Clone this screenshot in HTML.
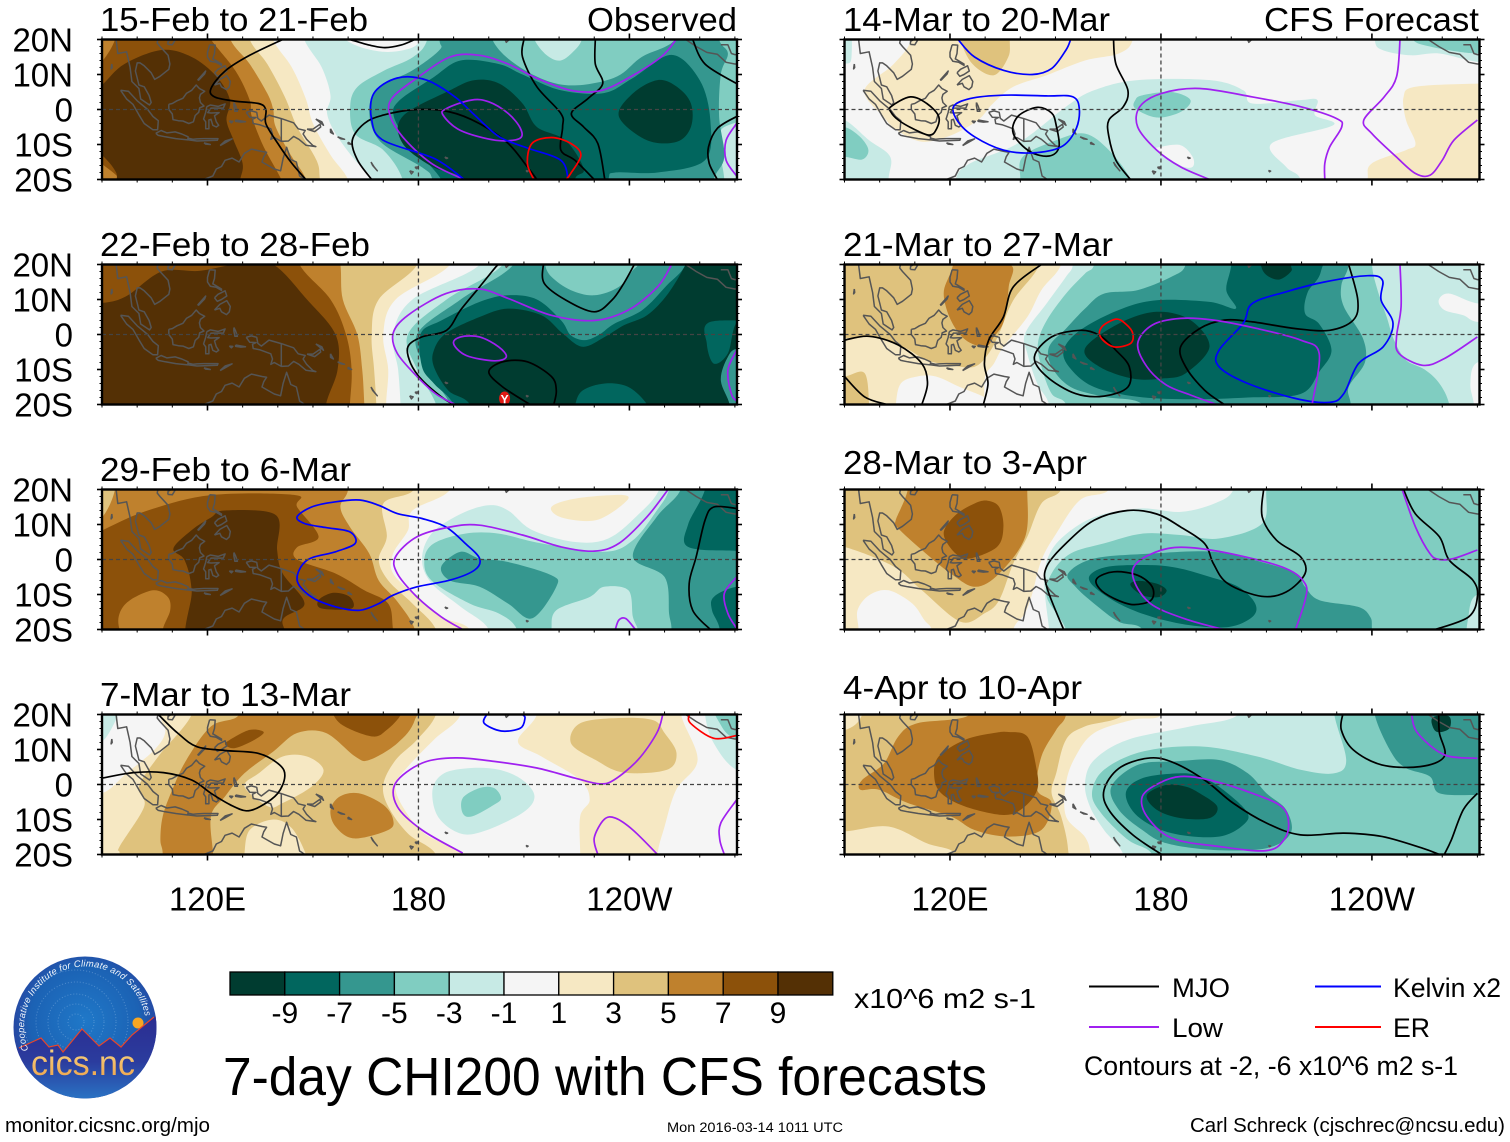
<!DOCTYPE html>
<html lang="en">
<head>
<meta charset="utf-8">
<title>7-day CHI200 with CFS forecasts</title>
<style>
html,body{margin:0;padding:0;background:#fff;}
svg{display:block;font-family:"Liberation Sans",sans-serif;fill:#000;}
</style>
</head>
<body>
<svg id="chart" xmlns="http://www.w3.org/2000/svg" width="1510" height="1142" viewBox="0 0 1510 1142">
<defs>
<radialGradient id="logo-sky" cx="50%" cy="45%" r="55%"><stop offset="0" stop-color="#1f78c8"/><stop offset="0.7" stop-color="#1c62b4"/><stop offset="1" stop-color="#2a3d9c"/></radialGradient>
<linearGradient id="logo-land" x1="0" y1="0" x2="0" y2="1"><stop offset="0" stop-color="#2b2c90"/><stop offset="0.55" stop-color="#2b3c9e"/><stop offset="1" stop-color="#2a74c4"/></linearGradient>
<linearGradient id="logo-word" x1="0" y1="0" x2="0" y2="1"><stop offset="0" stop-color="#f7d98a"/><stop offset="1" stop-color="#ee9f45"/></linearGradient>
<clipPath id="logo-clip"><ellipse cx="85" cy="1027.5" rx="71.5" ry="71"/></clipPath>
<path id="logo-arc" d="M 28.4 1050 A 61 61 0 1 1 145 1016"/>
</defs>
<rect x="0" y="0" width="1510" height="1142" fill="#fff"/>

<g id="panels"></g>

<g font-size="33">
<text x="100" y="31" textLength="268" lengthAdjust="spacingAndGlyphs">15-Feb to 21-Feb</text>
<text x="587" y="31" textLength="150" lengthAdjust="spacingAndGlyphs">Observed</text>
<text x="100" y="256" textLength="270" lengthAdjust="spacingAndGlyphs">22-Feb to 28-Feb</text>
<text x="100" y="481" textLength="251" lengthAdjust="spacingAndGlyphs">29-Feb to 6-Mar</text>
<text x="100" y="706" textLength="251" lengthAdjust="spacingAndGlyphs">7-Mar to 13-Mar</text>
<text x="843" y="31" textLength="267" lengthAdjust="spacingAndGlyphs">14-Mar to 20-Mar</text>
<text x="1264" y="31" textLength="215" lengthAdjust="spacingAndGlyphs">CFS Forecast</text>
<text x="843" y="256" textLength="270" lengthAdjust="spacingAndGlyphs">21-Mar to 27-Mar</text>
<text x="843" y="474" textLength="244" lengthAdjust="spacingAndGlyphs">28-Mar to 3-Apr</text>
<text x="843" y="699" textLength="239" lengthAdjust="spacingAndGlyphs">4-Apr to 10-Apr</text>
</g>

<g>
<ellipse cx="85" cy="1027.5" rx="71.5" ry="71" fill="url(#logo-sky)"/>
<g clip-path="url(#logo-clip)" fill="none" stroke="#9cc4ea" stroke-opacity="0.4" stroke-dasharray="1 2">
<circle cx="76" cy="1022" r="8"/>
<circle cx="76" cy="1022" r="18"/>
<circle cx="76" cy="1022" r="28"/>
<circle cx="76" cy="1022" r="40"/>
<circle cx="76" cy="1022" r="52"/>
</g>
<circle cx="138" cy="1023" r="5.5" fill="#f6a623"/>
<g clip-path="url(#logo-clip)">
<path d="M14 1050 L19 1048 L41 1038 L49 1047 L58 1045 L63 1052 L82 1029 L99 1046 L110 1038 L121 1047 L132 1035 L154 1017 L160 1015 L160 1100 L10 1100 Z" fill="url(#logo-land)"/>
<path d="M19 1048 L41 1038 L49 1047 L58 1045 L63 1052 L82 1029 L99 1046 L110 1038 L121 1047 L132 1035 L154 1017" fill="none" stroke="#e8452a" stroke-width="1.2"/>
</g>
<text font-size="9.3" font-style="italic" fill="#f2f6fb"><textPath href="#logo-arc" textLength="203" lengthAdjust="spacing">Cooperative Institute for Climate and Satellites</textPath></text>
<text x="31" y="1075" font-size="35" textLength="104" lengthAdjust="spacingAndGlyphs" fill="url(#logo-word)">cics.nc</text>
</g>

<g id="colorbar"></g>
<text x="854" y="1008" font-size="28" textLength="182" lengthAdjust="spacingAndGlyphs">x10^6 m2 s-1</text>

<text x="223" y="1095" font-size="54" textLength="764" lengthAdjust="spacingAndGlyphs">7-day CHI200 with CFS forecasts</text>

<g>
<line x1="1089" y1="986.5" x2="1159" y2="986.5" stroke="#000" stroke-width="2"/>
<text x="1172" y="997" font-size="27" textLength="58" lengthAdjust="spacingAndGlyphs">MJO</text>
<line x1="1315" y1="986.5" x2="1381" y2="986.5" stroke="#0000ff" stroke-width="2"/>
<text x="1393" y="997" font-size="27" textLength="108" lengthAdjust="spacingAndGlyphs">Kelvin x2</text>
<line x1="1089" y1="1027" x2="1159" y2="1027" stroke="#a020f0" stroke-width="2"/>
<text x="1172" y="1037" font-size="27" textLength="51" lengthAdjust="spacingAndGlyphs">Low</text>
<line x1="1315" y1="1027" x2="1381" y2="1027" stroke="#ff0000" stroke-width="2"/>
<text x="1393" y="1037" font-size="27" textLength="37" lengthAdjust="spacingAndGlyphs">ER</text>
<text x="1084" y="1075" font-size="27" textLength="374" lengthAdjust="spacingAndGlyphs">Contours at -2, -6 x10^6 m2 s-1</text>
</g>

<text x="5" y="1132" font-size="20.5" textLength="205" lengthAdjust="spacingAndGlyphs">monitor.cicsnc.org/mjo</text>
<text x="667" y="1132" font-size="13.5" textLength="176" lengthAdjust="spacingAndGlyphs">Mon 2016-03-14 1011 UTC</text>
<text x="1190" y="1132" font-size="20.5" textLength="315" lengthAdjust="spacingAndGlyphs">Carl Schreck (cjschrec@ncsu.edu)</text>
</svg>

<script>
/* ---------- scale and axis data ---------- */
const bandValues = [-10,-8,-6,-4,-2,0,2,4,6,8,10];
const bandColors = ['#003c30','#01665e','#35978f','#80cdc1','#c7eae5','#f5f5f5','#f6e8c3','#dfc27d','#bf812d','#8c510a','#543005'];
const colorbarTicks = ['-9','-7','-5','-3','-1','1','3','5','7','9'];
const lonMajor = [120,180,240];
const lonLabels = ['120E','180','120W'];
const latMajor = [20,10,0,-10,-20];
const latLabels = ['20N','10N','0','10S','20S'];
const lineColors = {mjo:'#000000',kelvin:'#0000ff',low:'#a020f0',er:'#ff0000'};

/* ---------- coastlines (lon,lat) ---------- */
const coastLines = [
[94,20,94.5,16,97,16.5,98,12,98.5,8,100.5,6,101,3,103.5,1.3,104,2,103.4,4,102,6.5,100.5,7,100,9,99.5,11,100,13.3,100.8,13.3,102,12.5,104,10.5,105,8.6,106.5,9.5,109,11.5,109.3,13,108.8,15.5,106.5,18,105.7,19,106,20.5],
[108.7,18.6,110,18.5,110.8,19.8,110,20.2,108.8,19.5,108.7,18.6],
[95.3,5.5,97.5,5.2,100,2.5,103,0,104.5,-2,106,-3.2,105.8,-5.8,104.5,-5.8,102,-4,100.5,-1.5,98.8,1.5,97,3,95.3,5.5],
[105.3,-6.8,106.8,-6,108.5,-6.7,110.8,-6.4,112.7,-7,114.5,-7.8,114.4,-8.7,111,-8.3,108,-7.8,106,-7.4,105.3,-6.8],
[114.6,-8.2,116,-8.5,117,-8.4,119,-8.3,120.5,-8.3,123,-8.3,122.8,-8.8,120,-8.9,117,-9,114.6,-8.7,114.6,-8.2],
[123.6,-10.3,125,-9,127,-8.4,125,-9.5,123.6,-10.3],
[119,-9.5,120.8,-10,119.5,-9.9,119,-9.5],
[109,1.5,110,1.7,111.3,2.5,113,3.2,114,4.6,115.5,5.5,116.8,7,117.7,6,119.2,5.2,118,4.3,117.7,3.3,118,2,119,1,117.8,0.5,117.5,-0.8,116.5,-1.7,116,-3.5,114.7,-4,113,-3.3,111.7,-3.2,110.2,-2.9,110,-1.3,109,0,109,1.5],
[119.8,0.8,120.8,1.3,123,0.9,125,1.6,124.5,0.4,121,0.4,120.1,-0.9,121,-1,123.3,-0.9,122,-1.8,122.5,-3.5,123.2,-4.5,122.5,-5,121.5,-4.5,121,-2.8,120.4,-3,120.4,-5.5,119.5,-5.5,119.5,-3.5,118.9,-2.7,119.5,-0.8,119.8,0.8],
[120.6,18.5,122.2,18.4,122,16,121.5,14.5,124,13,124,12.6,122.5,13.5,120.8,13.8,120,15,120,16.3,120.6,18.5],
[122,7,123.5,8.6,125.5,9.7,126.5,8,126.2,6.5,125.4,5.7,124,6.5,123.5,7.5,122,7],
[117.2,8.4,119.5,11,119.2,10.2,117.5,8.4,117.2,8.4],
[122,10.5,123,11.5,125,12.5,125.5,11,124,10,122.8,9.5,122,10.5],
[127.5,2,128,1,128.5,-0.5,127.8,-0.5,127.5,1,127.5,2],
[128,-3,130.8,-3.5,129.5,-3.6,128,-3.4,128,-3],
[126.2,-3.3,127.2,-3.4,126.8,-3.8,126.2,-3.3],
[131,-0.8,132.5,-0.4,134,-0.8,134.3,-2.5,135.3,-3.3,137.5,-1.6,141,-2.6,144.5,-3.8,145.8,-5.5,147.8,-6,147.2,-7,148.2,-8.5,150,-10.3,150.8,-10.6,148,-10.2,146,-8.5,144.5,-7.7,143,-9,141,-9.1,139,-8,138,-8.5,138.5,-7,138,-5.5,135,-4.4,133,-4,132.8,-2.8,133.8,-2.3,132,-2.2,131,-0.8],
[141,-2.6,141,-9.1],
[148.3,-5.6,150,-5.6,152,-4.2,152.2,-5,150.5,-6.3,148.3,-5.6],
[150.8,-2.7,153,-4.5,152.5,-3.5,150.8,-2.7],
[155,-5.5,155.8,-7,155,-6.5,155,-5.5],
[157,-7.8,159,-8.5,158,-8.4,157,-7.8],
[160,-9.3,161,-10,160,-9.8,160,-9.3],
[113.5,-22,114,-22,117,-20.6,119,-20,121.5,-19,122.5,-17,124,-16.3,125,-14.5,127,-13.9,129,-15,130.5,-12.5,132.5,-11.3,135.5,-12,136.8,-12.2,136,-13.5,135.5,-15,139,-17,140.8,-17.5,141.5,-14,142.5,-10.8,143.7,-14.3,145.3,-15,146.2,-19,147,-19.5,149,-21],
[166.5,-15,167,-16,168.3,-17.5,167.4,-16.4,166.5,-15],
[177.5,-17.5,178.5,-17.8,178,-18.4,177.5,-17.5],
[179,-16.5,180,-16.4,179.5,-16.9,179,-16.5],
[164,-20,165,-20.5,164.5,-20.4,164,-20],
[187.5,-13.6,188.3,-13.9,187.9,-14,187.5,-13.6],
[210.6,-17.4,211.2,-17.6,210.9,-17.8,210.6,-17.4],
[204.5,20.3,205,19.2,205.6,19.8,205,20.4,204.5,20.3],
[92.8,13,92.6,11.6,92.9,12,92.8,13],
[254.5,20,256,20,259,18,262,16.3,265,15.8,267.5,13.5,270,13,271,13],
[266,18.5,268,18.5,269,16,270,15.7,271,15.7]
];

/* ---------- panel 1: 15-Feb to 21-Feb ---------- */
const p1Base = -2;
const p1Fills = [
[0,[80,30,145,30,147.5,20,152.5,12,155,4,154,-1,156.5,-7,162,-14.5,167,-20,170,-30,80,-30]],
[0,[158,24,158,21,163,18,170,16.5,176,17,180,19,181,24]],
[2,[80,30,136,30,138.6,20,144,12,148,3,150,-4,155,-13,160,-20,163,-30,80,-30]],
[4,[80,30,130,30,132,20,137,13,142,3.6,145.5,-5,151,-14.5,152,-20,153,-30,80,-30]],
[6,[80,30,124,30,126.5,20,132,13,137,4.6,138.7,0,139.4,-5,144,-13.5,148,-20,150,-30,80,-30]],
[8,[94,26,118,26,121,20,128,11,132,2.7,132.6,-2,136,-10.7,141,-20,143,-26,96,-26,95,-20,90,-15.5,84,-10,84,8,90,13.7,93.7,20]],
[10,[90,7,96.4,13,107,17,115.5,15,122.6,9.4,126.4,2.7,125.4,-3,127.4,-8.7,130,-15.4,129.3,-20,128,-26,97,-26,94,-18,90,-13,84,-8,84,2]],
[-4,[182.5,20,183,30,280,30,280,-30,176,-30,175.5,-20,170,-11.6,162,-7,160.6,1,162.7,6.5,170,11,178.5,15]],
[-2,[213,24,213,20,216.5,15.5,220.5,14,224.5,17,226.5,20,227,24]],
[-2,[267,-5,266,-12.5,267,-20,267,-28,280,-28,280,-5]],
[-6,[201,30,201,20,209,12,221.5,7,235.5,9,243.5,15,253,20,255,30,264,30,265.5,20,268,16,266,10,265.5,-2,267,-13.5,264,-20,263,-30,186,-30,184,-20,181,-16.5,169,-9,166,0,169,6.5,178,11,186,17,186,20,186,30]],
[-8,[192,14,184,9,174.5,2.5,173,-2,177.5,-9.7,186.5,-20,190,-30,232,-30,234,-20,236,-18,248,-18,261.5,-14.5,263,-3,260,8.4,252,15.6,241,9,232.7,4.7,220.5,5.5,209.6,10,202.8,13]],
[-10,[196,8.4,189,5.5,175.5,-2,175.5,-9.7,184,-16.4,193,-20,193,-30,224,-30,224.5,-20,227,-17,221.8,-8.8,213.7,-5,209.6,1.7,203,7.4]],
[-10,[248,8.4,241,4.6,237,-2,245,-8.8,253.5,-9.2,257.5,-5,257.5,1.7,253.5,6.5]]
];
const p1Lines = [
['mjo',0,[141.4,20,132,15.5,125,11,121,6,122,3.6,127.7,2.4,134.5,1.7,136.6,0,136.6,-4,140,-9.7,144,-15.4,148,-20]],
['mjo',0,[160.5,20,166,18.4,170.5,17.7,175,18.4,179,20]],
['mjo',0,[166.7,-20,162.7,-14.5,161.2,-8.8,164.6,-4,170,-1.6,179.5,0,189,-0.7,197.3,-4,205.5,-9.7,211,-16.4,213.7,-20]],
['mjo',0,[210,20,209.6,15,213.7,6.5,220.5,-1.1,221,-5,220.5,-11.6,224.5,-14.5,230,-20]],
['mjo',0,[230.3,20,230.3,13,232.4,7.4,228.3,3.2,223.5,-1.1,227,-5,231,-9.7,233,-20]],
['mjo',0,[258,20,261.5,13,270.5,7.4]],
['mjo',0,[270.5,-2,265,-5.4,262.5,-10.7,262.7,-15.4,265,-20]],
['low',0,[253.3,20,249,15,239.7,9,231.5,5.3,223.3,5.5,213.7,8.9,205.5,13,197.3,15.5,189,15,179.6,9,172.8,3.6,171.7,-1,175.5,-7.8,183.7,-15.4,193,-20]],
['low',1,[195,2.7,188,0.3,187,-1.6,192,-6,202,-8.8,208.7,-8.3,209,-5.4,205.5,-1.1,200,2.2]],
['low',0,[270.5,-4,267.5,-8.8,267.5,-14.5,270.5,-19]],
['kelvin',0,[193,-20,184.5,-14,170,-8.8,166.7,-3,167.3,4.6,174,9,182.3,8.4,190.4,3.6,196,-1.6,203,-7.8,211,-11,220.5,-14.5,222.6,-20]],
['er',0,[212.8,-20,211,-15.4,212.3,-9.7,217.8,-8,223.3,-9.7,226.2,-13,223.3,-18.3,222,-20]]
];

/* ---------- panel 2: 22-Feb to 28-Feb ---------- */
const p2Base = -2;
const p2Fills = [
[0,[80,30,196,30,197.4,20,178.3,10,172.8,0,174.2,-10,174.9,-20,175,-30,80,-30]],
[2,[80,30,188,30,189,20,173.5,10,170,0,171.4,-10,170.8,-20,171,-30,80,-30]],
[4,[80,30,178,30,179.6,20,168.7,10,166.7,0,167.4,-10,168,-20,168,-30,80,-30]],
[6,[80,30,156,30,157.8,20,158.5,10,162.6,0,164,-10,164.6,-20,165,-30,80,-30]],
[8,[80,30,145,30,146.2,20,155,10,159.4,0,161,-10,160.5,-20,160,-30,80,-30]],
[10,[90,9,97,11,107,18,118,18.2,130,20.5,138.7,20,148.3,10,156.4,0,157,-10,153.7,-20,153,-30,80,-30,80,9]],
[-4,[204,30,204,20,188,10,177,0,179.6,-10,185,-20,186,-30,280,-30,280,30]],
[-6,[207,30,207,20,192,10,179.6,0,182.4,-10,189,-20,190,-30,280,-30,280,30]],
[-4,[216,24,216,20,217.8,16.5,223.3,12.7,230,11.2,237,13.6,241,18.4,242.4,20,242.4,24]],
[-8,[205.5,11.2,197.4,9.3,186.5,4,180.7,0.3,181,-9.2,184.4,-14,189.9,-20,191,-30,280,-30,280,30,258,30,256,20,250.6,14,243.7,7,235.6,3,231.5,0,227.4,-1.6,223.3,-0.2,220.6,4,213.7,10]],
[-10,[205.5,7.4,197.4,5,187.8,0.3,184.4,-4.5,184.4,-9.2,188.5,-16,194.6,-20,196,-30,280,-30,280,30,260,30,256.5,21,251,11.7,245,5.5,238.5,2.7,233,-0.7,226.7,-3.5,221,0.3,215,5.5]],
[-8,[263,3.6,262,-2.6,264,-8.3,268,-5.4,271,4,280,4,280,3.6]],
[-6,[271,-4,268,-6.4,266,-13,268.5,-20,268.5,-26,280,-26,280,-4]],
[-8,[224.6,-24,224.6,-20,226.7,-16,233,-14,239.7,-15,245,-20,245,-24]]
];
const p2Lines = [
['mjo',0,[203,20,202,19.3,197.4,13.6,192,7,188,1.2,181,-0.7,177,-3.5,177.8,-8.3,181,-13,186.5,-17.8,190,-20]],
['mjo',0,[215.5,20,215.8,14.6,222,9.8,230,6.5,235,9.8,238.4,14.6,241.4,20]],
['mjo',0,[211.7,-20,204,-15,200,-10.7,204,-7.8,211,-7.8,217.8,-12,219.2,-16,218.5,-20]],
['low',0,[252,20,248,13.6,239.7,7,230,4,217.8,5.5,205.5,10.3,197.4,13,187.8,11.7,177,5.5,172.8,0.3,174,-5.4,179.6,-12,185,-17,190.5,-20]],
['low',1,[192,-0.7,190,-2.6,193.6,-6,201.5,-7.5,205,-6.4,202.8,-3.5,197.4,-0.7]],
['low',0,[270.5,-4.5,268,-10.2,269,-17,270.5,-19]]
];
const p2Storm = [204.5,-18.3];

/* ---------- panel 3: 29-Feb to 6-Mar ---------- */
const p3Base = 0;
const p3Fills = [
[2,[80,30,188,30,189,20,178.3,14,177,8.3,172.8,1.7,172.8,-4,179.6,-10.6,186.5,-16.4,194.6,-20,196,-30,80,-30]],
[2,[217.8,15,224.6,17.4,238.4,18.4,238.4,16,230.4,11.2,220.7,12]],
[4,[80,30,178,30,178.7,20,170,16,171,6.5,168.7,0,171.4,-6,178.3,-12.6,185,-20,186,-30,80,-30]],
[6,[94,30,93.7,20,90,12,84,8,82,-30,180,-30,179,-20,174,-12,168.7,-6,166,1.7,160.5,9.3,157.8,15,160,20,160,30]],
[8,[90,8.3,103,14,121,18.4,145,18.4,145.5,15,151.6,6.5,145.5,3.5,145.5,0,156.4,-4,164.6,-8.8,171.4,-12.6,172.8,-20,174,-30,82,-30,82,4]],
[6,[95,-15.4,98,-11.6,104.6,-8.8,108.7,-10.7,109.4,-14.5,107.3,-20,107,-26,98,-26,95,-20]],
[10,[125,14,139.4,12.7,139.8,2.7,141.4,-4,147.6,-12.6,141.4,-17.3,142,-26,115.5,-26,115.5,-8.8,113.5,-0.2,110.3,3.1,115.5,8.4,121,12]],
[10,[151.6,-11.6,155.8,-9.5,160.5,-10.7,161,-14,152.5,-14]],
[-2,[201,-30,200,-20,192,-13.5,183.7,-6.8,181,0,183.7,7.4,192,13,200,15.5,205.5,14,212.4,8.4,224.6,5,234,6,242.4,12.7,248.5,20,250,30,280,30,280,-30]],
[-4,[209,-30,208,-20,202.8,-15.4,194.6,-12.6,183.7,-6,181.7,0,184.4,4.6,193.3,7.4,202.8,7.4,215,4.6,232.8,2.2,241,5.5,247.8,14,251.3,20,253,30,280,30,280,-30]],
[-2,[217.8,-24,217.8,-20,219.2,-14.5,228.7,-10.7,232.8,-7.8,239.7,-8.8,241,-16.4,242.4,-20,242.4,-24]],
[-6,[186.5,-2,192,2.2,197.4,0.3,205.5,-0.7,217.8,-4.5,219.2,-7.8,212.4,-16.8,205.5,-12.6,197.4,-7.8,189,-6]],
[-6,[255,30,254.6,20,247.8,12.2,241,0.8,250,-5,251.3,-15.5,252,-20,252,-30,280,-30,280,30]],
[-8,[262,30,261.5,20,256.7,10,256.7,3.6,270,2.5,280,2.5,280,30]],
[-8,[270.5,-7.8,264,-10.7,263.5,-14.5,265.7,-20,266,-30,280,-30,280,-7.8]]
];
const p3Lines = [
['kelvin',1,[145.5,12.2,149.6,15,156.4,16.5,163.3,17,168.7,15.5,174,13.1,181,11.7,187.8,9.3,193.3,4.6,197.4,0.3,196,-3,189,-5.9,179.6,-7.8,172.8,-10.2,168.7,-12.6,163.3,-14.5,156.4,-13.5,149.6,-10.7,145.5,-5.9,148.3,-0.2,156.4,2.2,162,4.6,160.5,7.9,153.7,9.1,147.6,10.3]],
['low',0,[251,20,245,12.2,237,4.6,230,2.4,220.6,3.6,209.6,7,197.4,9.8,189,9.3,179.6,6.5,173.5,0.8,174,-4,179.6,-10.7,186.5,-16.4,192.6,-20]],
['low',0,[270.5,-5,267,-9.7,268,-15.4,270.5,-19.7]],
['low',0,[236,-20,237,-17.3,239,-16.9,241.7,-20]],
['mjo',0,[270.5,14.6,264,15,261.5,11.2,259,0.8,257,-6.8,258,-14.5,263,-20]]
];

/* ---------- panel 4: 7-Mar to 13-Mar ---------- */
const p4Base = 0;
const p4Fills = [
[-2,[84,12.3,90,12.3,94,18.5,94.4,20,94.4,26,84,26]],
[2,[90,-2.5,97,3.2,105,10,108,15,106.5,20,107,30,191,30,192,20,184.4,12.8,177,5.1,173.5,0,175.5,-6.3,181.7,-14,192.6,-20,195,-30,80,-30,80,-2.5]],
[4,[115.5,30,115.5,20,106,8,100.5,-0.6,102,-6.3,95,-17.7,95,-20,94,-30,186,-30,185,-20,177,-14,171.4,-6.3,170,0,173.5,7,179.6,12.8,185,20,186,30]],
[6,[129,30,129,20,121,16.6,114,7,110,-1.5,107.3,-9,106.6,-15.8,107.3,-20,107,-30,122,-30,121.6,-20,121,-9,125,-3.4,130.5,3.2,138.7,9.4,145.5,14.7,153.7,14.7,162,8,166,7,174,11.8,179,18.5,180,30]],
[2,[141.4,8,148.3,8,153,4.2,149.6,-0.6,141.4,-5.3,137.3,-6.3,130.5,-0.6,134.6,3.2]],
[2,[130.5,-24,130.5,-20,132,-13,138.7,-10,144,-12.5,148,-20,148,-24]],
[6,[155,-7.2,157.7,-3.4,163,-2.5,170,-5.8,172.8,-10,171.4,-13,161.7,-15.4,156.4,-12]],
[8,[155.8,24,155.8,20,159,16.6,167,13.7,171,15.6,175,20,175,24]],
[8,[126.4,12.8,132,15.6,136,15,133.4,12.8,127.8,10.4,125,11.4]],
[2,[214,30,213.7,20,208.3,12.3,215,8,226,1.3,228.7,-4.4,226,-9.1,226,-20,226,-30,248,-30,248,-20,250,-12,253.3,-1.5,259.4,7,254.7,20,255,30]],
[4,[223.4,11.8,226,17.5,237,19,246.7,18.4,250,14.7,253.4,9,250.7,4.2,238.4,3.4,230.4,7]],
[-2,[261.5,30,261.5,20,264,11.8,270.5,4.2,280,4.2,280,30]],
[-4,[264.5,24,266,17,270.5,13,280,13,280,24]],
[-2,[195,4.7,187.3,3.2,184,-1.5,185.5,-9.1,191.6,-13.9,198.4,-13.4,209.6,-8.1,213,-3.4,209.6,1.3,203,4.2]],
[-4,[197.4,-1,192.6,-3.9,192.6,-8.2,195.3,-9.1,201.5,-5.8,203.5,-3.9,201.5,-1]]
];
const p4Lines = [
['mjo',0,[106,20,111.5,14.7,117,10.8,125,9.7,134.5,8.9,140.5,5.6,142,2.3,140,-2.5,135,-6.3,131,-7.5,126.5,-5.8,121,-2.5,115.5,1.3,107.5,3.4,99,3.4,90,1.8]],
['kelvin',0,[199.4,20,198.7,17.5,203.5,15.3,209,16.1,210.3,19,209.6,20]],
['er',0,[257,20,257.4,17.5,264,13.2,270.5,14]],
['low',0,[249.5,20,247.8,14.7,242.4,7,235.6,1.3,231.5,0.2,224.6,1.8,213.7,4.7,201.5,6.6,190.5,7.6,181,6.1,173.5,0.4,174,-6.3,181,-13,192.6,-19.6]],
['low',0,[231,-20,230,-15.3,232.8,-10,236,-9.6,241,-13,248,-20]],
['low',0,[270.5,-4.4,266,-11,265.7,-15.8,267,-20]]
];

/* ---------- panel 5: 14-Mar to 20-Mar ---------- */
const p5Base = 0;
const p5Fills = [
[-2,[84,26,91,26,92,15,90,13,84,13]],
[2,[109,30,172,30,172,20,168,16,158.4,14,147.5,9.8,138,6.5,132,1.5,128,-3,120,-7.5,112,-9.2,105,-6,101,-2,95.7,5.5,104,13,109,20]],
[4,[123,26,123,20,126.4,13,132.5,9.8,136.6,15,137,20,137,26]],
[-2,[161,5.5,173.4,8.4,194,8.4,203.4,5.5,206,1.7,219.7,2.7,224.5,2.7,223.8,-1.6,229,-4.5,211.5,-9.7,215.6,-16.4,219.7,-20,220,-30,121,-30,121.6,-20,125.7,-15.4,139.3,-9.7,153,0.8]],
[0,[180,-10.7,185.6,-10.2,189,-13.5,189,-16.4,185.6,-16,179,-11.6]],
[-4,[172.7,2.7,174.8,4.1,183,5,188.4,2.7,185.6,-0.7,178.8,-2.3,172.7,0.3]],
[-4,[140,-26,140,-20,140.7,-13.5,150.2,-8.8,158.4,-6.9,165.2,-11.6,171.4,-20,172,-26]],
[-2,[84,-3,90,-3,97,-8.8,103,-13.5,102.5,-20,102,-30,84,-30]],
[-4,[84,-5,90,-5,94.4,-7.8,96.8,-11.6,95,-14.3,90,-13.5,84,-13.5]],
[-2,[240.8,30,240.8,20,243,17,251,15.5,259.2,16,270,13.6,280,13.6,280,30]],
[-4,[251.7,26,251.7,20,256.5,18,264.7,16.5,270,16,280,16,280,26]],
[2,[249,3.6,252.4,6.5,270,7.4,280,7.4,280,-30,238.8,-30,238.8,-20,240,-15.4,249.7,-11.6,252.4,-9.7,249.7,-3]]
];
const p5Lines = [
['mjo',0,[166.5,20,167.2,13,170.6,5.5,169.3,0.8,165.2,-3,165.2,-7.8,167.2,-14.5,171.3,-20]],
['mjo',1,[103.2,0.8,108.7,3.6,113.4,1.7,116.8,-2,116,-5.9,114,-7.3,109.3,-5.4,105.3,-3,103.2,-0.7]],
['mjo',1,[144.8,0.6,139.3,-2,138,-6.9,142.7,-12,148.2,-13.3,151,-10.7,150.2,-4.5,148.9,-1]],
['kelvin',0,[122.3,20,127,15,135.2,11.2,143.4,10,148.9,11.7,153,17,154.3,20]],
['kelvin',1,[121,0.8,125.7,3.1,135.2,4.1,147.4,3.9,155,3.6,156.8,-0.2,155.7,-5.9,151.6,-10.7,143.4,-12.4,135.2,-11.6,127,-7.8,122.3,-3.5]],
['low',0,[193.8,-20,185.6,-16.4,178.8,-11.6,173.4,-5,174,0.8,180.2,4.6,191,6,206,3.6,219.7,0.8,230,-2.6,231.4,-5,228,-10.7,226.6,-15.4,226.6,-20]],
['low',0,[248,20,247,9.3,243.5,3.6,237.7,-3,240,-6.9,246.9,-13.5,252.4,-18.3,256.5,-18.8,260,-14.5,263.3,-8.8,270,-3]]
];

/* ---------- panel 6: 21-Mar to 27-Mar ---------- */
const p6Base = 0;
const p6Fills = [
[2,[152,30,151.6,20,146,12.7,142,5,135.2,-3.5,132.5,-8.3,130,-12,129.8,-20,130,-30,80,-30,80,30]],
[0,[104.6,-26,104.6,-20,106,-14,110.7,-12,116,-12,122.8,-15,130,-18,131,-20,131,-26]],
[4,[80,30,145,30,145.4,20,138,9.8,134,0.3,131,-5.4,127,-9.2,120.3,-8.8,113.4,-7.3,106.6,-3.5,98.4,-0.7,90,-1,80,-1]],
[4,[84,-12,90,-12,95.7,-11,97,-20,97,-26,84,-26]],
[6,[123,26,123,20,137,20,136.7,13.6,135.4,4,132.5,-0.7,130,-3.5,124.5,-1.6,120.3,4,118.2,11.7,120.3,18]],
[-2,[156,30,155,20,153,16.5,147.5,8.9,141.4,0.3,142,-5.4,144.8,-14,148.2,-20,149,-30,280,-30,280,30]],
[0,[259,9.8,262,11.7,270,8.9,280,8.9,280,3.6,270,3.6,266,5.5,260.6,7]],
[0,[270,-8,268,-14,269,-20,269,-26,280,-26,280,-8]],
[-4,[162,30,161,20,158.4,17.4,153,11.7,147.5,4,145,-2.6,146,-9.2,148.9,-16.9,153,-20,154,-30,263,-30,262,-20,259.2,-14,255,-10,249.7,-7.3,246.3,-1.6,244.2,5,241.5,13,240,20,240,30]],
[-6,[187,30,187,20,183,16.5,173.4,12.7,163.8,11.7,158.4,7.4,153,1.7,148.2,-3.5,148.9,-9.2,154.3,-15,163.8,-17.8,174.7,-20,175,-30,235,-30,234,-20,233.4,-15,238,-8,237.4,-1,232,8,231.3,14,233.4,20,233,30]],
[-8,[200,30,200,20,198.6,12.7,201.3,7.4,193.8,9.3,178.8,9.8,168,7,157,1.2,152.3,-4.5,154.3,-9.8,161,-15,173.4,-17.8,188.4,-18.5,204.7,-18,219.7,-17,225,-10.7,228.5,-4.5,225,3,221,6,221.7,12,225.5,18,226,30]],
[-10,[178.8,6.5,168,3.1,158.4,-4,162.5,-9.2,172,-12.6,180.2,-12.6,187,-11.1,193.8,-3.5,188.4,4.1]],
[-10,[208.4,25,208.4,20,210,17,213.6,15.7,217,18,217,20,217,25]]
];
const p6Lines = [
['mjo',0,[146,20,138,13.6,135.2,5,131,-1.6,129.8,-8.3,130.8,-14,129.5,-20]],
['mjo',0,[90,-1.6,97,-0.5,105.3,-3,112,-8.3,113.6,-14,112,-20]],
['mjo',0,[90,-12,95.7,-17.8,102,-20]],
['mjo',1,[157,1.2,148.9,-0.7,144,-6.4,147.5,-12,155.7,-16.9,163.8,-17.6,170.6,-15,171,-9.2,167.2,-4.5,162.5,-0.2]],
['mjo',0,[233.4,20,236,9.8,234.7,4.1,228,1.2,218.3,1.7,206,3.6,198,4.1,191,1.7,185.6,-3.5,187,-9.2,192.4,-15.9,198,-20]],
['kelvin',1,[238.8,16.8,243,15.5,242.6,9.8,246,3.2,243.2,-3.5,236.2,-8.3,232,-16.9,228,-19.4,218.3,-18.3,204.7,-14,196.5,-9.2,196.5,-4.5,203.4,3.2,206,8.9,215.6,12.2,226.5,15]],
['low',0,[223,-20,225,-5.4,219.7,-1.6,207.4,1.7,195,4.1,185.6,4.6,177.5,2.7,173.4,-2.6,176,-9.2,181.5,-14.4,188.4,-17.3,195.8,-20]],
['low',0,[248,20,248.3,8,247,-0.7,247.7,-5.4,254.4,-8.8,260.6,-6.9,270,-0.7]],
['er',1,[167.2,4.4,163.2,2.2,162.8,-0.7,166.5,-3.5,171.3,-2.6,172,0.3,170,3]]
];

/* ---------- panel 7: 28-Mar to 3-Apr ---------- */
const p7Base = 0;
const p7Fills = [
[2,[166,30,165.2,20,157,17,150.2,7.4,146,-0.2,143.4,-9.7,141.3,-15.4,138,-20,137,-30,80,-30,80,30]],
[0,[93.7,-14.5,97,-10.2,102.5,-8.8,109.3,-12.6,112.7,-17.3,114.8,-20,115,-26,94,-26,94,-20]],
[4,[152,30,151.6,20,146,16,142,6.5,138,-1.1,134,-11.6,129.8,-15.4,123,-17.8,112,-8.8,104,-2,90,3.6,80,5,80,30]],
[6,[142,30,142,20,141.4,6.5,134,-4,127.2,-7.8,120.2,-4,112,2.7,105.3,8.9,104.5,11,108,20,108,30]],
[8,[130.7,16.8,134,15,135.2,9.3,133.4,3.6,125.7,0.3,121.6,1.7,118.2,7.4,121.6,12.7,127,16]],
[-2,[201,30,200.6,20,195.2,16,185.6,13.6,174.7,14.6,163.8,13,155.7,9.3,148.9,2.7,146.8,-5.9,148.2,-20,149,-30,280,-30,280,30]],
[-4,[211,30,210,20,208.8,10.3,196.5,6,185.6,7,174.7,7.4,163.8,4.6,154.3,1.7,148.9,-4,147.5,-10.7,153,-20,154,-30,280,-30,280,30]],
[-2,[270,-10,267.5,-16,268,-25,280,-25,280,-10]],
[-6,[194.9,2.2,177.5,1.7,161,0.3,153.6,-4,155.7,-7.8,161,-12.6,168,-17.8,174.7,-20,176,-30,240,-30,240,-20,239.5,-16.4,236,-13.5,225,-11.6,221,-7.8,218.3,-4,210,-1.1]],
[-8,[177.5,-1.6,165.2,-2,159.8,-4.5,161,-7.8,168,-12.6,177.5,-16.4,188.4,-18.8,199.3,-19.3,206,-16.4,206.8,-12.6,202,-7.8,194,-5,185.6,-2.6]],
[-10,[173.4,-6.1,171.3,-7.3,174.7,-10.2,179.5,-10.7,181.6,-8.8,178.8,-6.9]]
];
const p7Lines = [
['mjo',0,[152.3,-20,147.5,-7.8,147.5,-2,153,4.6,161,11.2,170.5,14,178.8,13,185.6,9.3,192.4,4.6,194.9,-1.1,199,-6.9,208.6,-10.5,215.6,-9.3,221,-4,219.7,0.8,212.9,5.5,208.8,12.2,209.2,20]],
['mjo',1,[161.8,-5.4,166.6,-3.5,173.4,-4.5,177.5,-7.8,177.2,-11.6,172,-12.9,166.6,-11.1,162.5,-8.3]],
['mjo',0,[249,20,252.4,13,259.2,6.5,262,-0.2,268.7,-5.9,270,-10.7,267.5,-16.4,258,-20]],
['low',0,[197.7,-20,186.6,-16.9,177,-12.6,172.3,-5.9,173,-1.1,180.2,2.7,188.4,3.4,202,1.2,215.6,-2.6,221,-6.9,221,-11.6,218.3,-20]],
['low',0,[248.6,20,252.4,9.3,256.5,1.7,259.2,0,263.3,0.3,270,2.7]]
];

/* ---------- panel 8: 4-Apr to 10-Apr ---------- */
const p8Base = 0;
const p8Fills = [
[2,[181,30,180.2,20,172,18.5,161,14.7,155.7,8,153,0.4,153,-9.1,158.4,-15,160,-20,161,-30,80,-30,80,30]],
[4,[170,30,169.3,20,158.4,16.6,153,12.8,150.2,3.2,148.9,-2.5,151.6,-9.1,153.6,-18.7,153,-30,121,-30,121.6,-20,113.4,-16.8,102.5,-12,90,-13.4,80,-13,80,15,90,15.5,95,20,95,30]],
[6,[125.7,30,125.7,20,110.7,17.5,105.3,13.7,101.2,6,95,1.3,94.5,-1.5,99.8,-1.5,108,-5.3,120.2,-9.1,127,-13,136.6,-14.9,146,-13,148.9,-5.3,144.8,-1.5,146,8,150.2,15.6,153,20,153,30]],
[8,[136.6,15,142,13.7,144.5,5.1,144.8,-1.5,140.7,-6.8,135.2,-8.7,124.3,-6.3,117.5,-2.5,115.5,2.3,116.8,8,124.3,12.8,132.5,14.7]],
[-2,[203,30,202,20,188.4,16.6,170.6,12.8,161,7,158.4,0.4,159.8,-6.3,163.8,-13,169.3,-20,170,-30,280,-30,280,30]],
[-4,[229,30,229.3,20,232.7,7,229.3,3.2,219.7,4.2,207.4,8,191,10.9,174.7,9.4,163.8,4.2,160.4,-2.5,163,-8.2,170.6,-15.8,177.5,-20,178,-30,280,-30,280,30]],
[-6,[196.5,7,184,6.6,173.4,5.6,165.9,-0.6,168,-7.2,174.7,-13,181.6,-16.8,195,-18.7,210,-18.2,216.9,-13.9,215.6,-7.2,210,-2.5,204.7,3.2]],
[-6,[240.8,30,240.8,20,245.6,9,249.7,4.7,256.5,2.3,259.2,-2.5,270,-3,280,-3,280,30]],
[-8,[185.6,3.2,174.7,1.8,170,-2.5,173.4,-9.1,183,-13.9,196.5,-14.9,204,-11,204,-7.2,196.5,-0.6,191,2.3]],
[-10,[181.6,-0.1,176,-3,178.8,-7.2,185.6,-9.6,193.8,-9.6,196,-6.3,191,-2.5,187,-0.6]],
[-10,[257,17.5,258.5,15,262,16,262,19.4,257.7,19.4]]
];
const p8Lines = [
['mjo',0,[180.2,-20,172,-14.4,165.2,-7.3,163.8,-1.6,168,4.6,176,7.5,183,6.5,192.4,1.3,200.5,-5.3,210,-11,219.7,-14.4,232,-13.9,243,-14.9,254.4,-18.2,259.2,-20]],
['mjo',0,[231.7,20,231.3,15.6,234.7,9.9,242.8,5.6,253.7,5.1,260.6,8,259.2,14.7,259,20]],
['mjo',0,[270,-2.5,266,-7.2,262.6,-15.8,260.6,-20]],
['low',1,[179.5,0.4,174.7,-3.4,176,-9.1,183,-15.3,196.5,-17.7,210,-18.9,215,-15.8,216.3,-11,214.3,-6.3,206,-2.5,193.8,1.3,185.6,2.3]],
['low',0,[251.3,20,253,14.7,260.6,8.5,270,7.5]]
];

/* ---------- drawing ---------- */
const SVGNS = 'http://www.w3.org/2000/svg';
const panelGroup = document.getElementById('panels');
const colorbarGroup = document.getElementById('colorbar');
const defs = document.querySelector('#chart defs');
const lonStart = 90, latTop = 20, pxPerLon = 635 / 180.6, pxPerLat = 3.5;
const panelWidth = 635, panelHeight = 140;

function make(tag, parent, attrs) {
  const node = document.createElementNS(SVGNS, tag);
  for (const key in attrs) node.setAttribute(key, attrs[key]);
  parent.appendChild(node);
  return node;
}
function colorOf(value) {
  let best = 0;
  bandValues.forEach(function (v, i) {
    if (Math.abs(v - value) < Math.abs(bandValues[best] - value)) best = i;
  });
  return bandColors[best];
}
function toPoints(flat, X, Y) {
  const pts = [];
  for (let i = 0; i < flat.length; i += 2) pts.push([X(flat[i]), Y(flat[i + 1])]);
  return pts;
}
function smoothPath(flat, closed, X, Y) {
  const p = toPoints(flat, X, Y), n = p.length;
  let d = 'M' + p[0][0].toFixed(1) + ' ' + p[0][1].toFixed(1);
  const last = closed ? n : n - 1;
  for (let i = 0; i < last; i++) {
    const a = closed ? p[(i - 1 + n) % n] : p[Math.max(i - 1, 0)];
    const b = p[i];
    const c = p[(i + 1) % n];
    const e = closed ? p[(i + 2) % n] : p[Math.min(i + 2, n - 1)];
    d += 'C' + (b[0] + (c[0] - a[0]) / 6).toFixed(1) + ' ' + (b[1] + (c[1] - a[1]) / 6).toFixed(1) + ' ' +
      (c[0] - (e[0] - b[0]) / 6).toFixed(1) + ' ' + (c[1] - (e[1] - b[1]) / 6).toFixed(1) + ' ' +
      c[0].toFixed(1) + ' ' + c[1].toFixed(1);
  }
  return d + (closed ? 'Z' : '');
}
function straightPath(flat, X, Y) {
  return toPoints(flat, X, Y).map(function (q, i) {
    return (i ? 'L' : 'M') + q[0].toFixed(1) + ' ' + q[1].toFixed(1);
  }).join('');
}

const panelList = [
  {base:p1Base, fills:p1Fills, lines:p1Lines, col:0, row:0},
  {base:p2Base, fills:p2Fills, lines:p2Lines, col:0, row:1, storm:p2Storm},
  {base:p3Base, fills:p3Fills, lines:p3Lines, col:0, row:2},
  {base:p4Base, fills:p4Fills, lines:p4Lines, col:0, row:3},
  {base:p5Base, fills:p5Fills, lines:p5Lines, col:1, row:0},
  {base:p6Base, fills:p6Fills, lines:p6Lines, col:1, row:1},
  {base:p7Base, fills:p7Fills, lines:p7Lines, col:1, row:2},
  {base:p8Base, fills:p8Fills, lines:p8Lines, col:1, row:3}
];

panelList.forEach(function (panel, index) {
  const left = panel.col === 0 ? 102 : 844.5;
  const top = 39.5 + panel.row * 225;
  const X = function (lon) { return left + (lon - lonStart) * pxPerLon; };
  const Y = function (lat) { return top + (latTop - lat) * pxPerLat; };

  const clip = make('clipPath', defs, {id: 'panel-clip-' + index});
  make('rect', clip, {x: left, y: top, width: panelWidth, height: panelHeight});

  const g = make('g', panelGroup, {});
  
  

  const field = make('g', g, {'clip-path': 'url(#panel-clip-' + index + ')'});
  
  

  const base = make('rect', field, {x: left, y: top, width: panelWidth, height: panelHeight, fill: colorOf(panel.base)});
  
  

  panel.fills.forEach(function (shape) {
    const area = make('path', field, {d: smoothPath(shape[1], true, X, Y), fill: colorOf(shape[0])});
    
    
  });

  coastLines.forEach(function (flat) {
    const coast = make('path', field, {d: straightPath(flat, X, Y), fill: 'none', stroke: '#555555', 'stroke-width': 1.5, 'stroke-linejoin': 'round'});
    
    
  });

  panel.lines.forEach(function (item) {
    const contour = make('path', field, {d: smoothPath(item[2], item[1] === 1, X, Y), fill: 'none', stroke: lineColors[item[0]], 'stroke-width': 1.7});
    
    
  });

  if (panel.storm) {
    const sx = X(panel.storm[0]), sy = Y(panel.storm[1]);
    const blob = make('ellipse', g, {cx: sx, cy: sy, rx: 5.5, ry: 7, fill: '#e01a14'});
    
    
    const mark = make('text', g, {x: sx, y: sy + 5, 'text-anchor': 'middle', 'font-size': 12, 'font-weight': 'bold', fill: '#ffffff'});
    mark.textContent = 'Y';
    
    
  }

  const equator = make('line', g, {x1: X(90), x2: X(90) + panelWidth, y1: Y(0), y2: Y(0), stroke: '#444444', 'stroke-width': 1.3, 'stroke-dasharray': '4 3'});
  
  
  const dateline = make('line', g, {x1: X(180), x2: X(180), y1: Y(20), y2: Y(-20), stroke: '#444444', 'stroke-width': 1.3, 'stroke-dasharray': '4 3'});
  
  

  /* ticks */
  for (let lon = 90; lon <= 270; lon += 10) {
    const major = lonMajor.indexOf(lon) >= 0;
    const len = major ? 6 : 3;
    const topTick = make('line', g, {x1: X(lon), x2: X(lon), y1: top, y2: top - len, stroke: '#000', 'stroke-width': major ? 1.6 : 1});
    
    
    const botTick = make('line', g, {x1: X(lon), x2: X(lon), y1: top + panelHeight, y2: top + panelHeight + len, stroke: '#000', 'stroke-width': major ? 1.6 : 1});
    
    
  }
  for (let lat = -20; lat <= 20; lat += 2) {
    const major = latMajor.indexOf(lat) >= 0;
    const len = major ? 5 : 2.5;
    const leftTick = make('line', g, {x1: left, x2: left - len, y1: Y(lat), y2: Y(lat), stroke: '#000', 'stroke-width': major ? 1.6 : 1});
    
    
    const rightTick = make('line', g, {x1: left + panelWidth, x2: left + panelWidth + len, y1: Y(lat), y2: Y(lat), stroke: '#000', 'stroke-width': major ? 1.6 : 1});
    
    
  }

  const frame = make('rect', g, {x: left, y: top, width: panelWidth, height: panelHeight, fill: 'none', stroke: '#000', 'stroke-width': 2.4});
  
  

  if (panel.col === 0) {
    latMajor.forEach(function (lat, i) {
      const label = make('text', g, {x: 73, y: Y(lat) + 12, 'text-anchor': 'end', 'font-size': 33});
      label.textContent = latLabels[i];
      
      
    });
  }
  if (panel.row === 3) {
    lonMajor.forEach(function (lon, i) {
      const label = make('text', g, {x: X(lon), y: 910.5, 'text-anchor': 'middle', 'font-size': 33});
      label.textContent = lonLabels[i];
      
      
    });
  }
});

/* ---------- colour bar ---------- */
const barLeft = 230, barTop = 972, boxWidth = 54.8, boxHeight = 23;
bandColors.forEach(function (color, i) {
  const box = make('rect', colorbarGroup, {x: barLeft + i * boxWidth, y: barTop, width: boxWidth, height: boxHeight, fill: color, stroke: '#000', 'stroke-width': 1.3});
  
  
});
colorbarTicks.forEach(function (tick, i) {
  const label = make('text', colorbarGroup, {x: barLeft + (i + 1) * boxWidth, y: 1023, 'text-anchor': 'middle', 'font-size': 30});
  label.textContent = tick;
  
  
});
</script>
</body>
</html>
